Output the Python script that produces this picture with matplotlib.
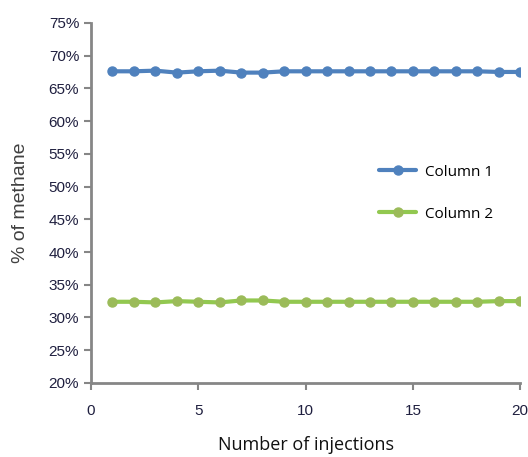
import matplotlib.pyplot as plt
from matplotlib.ticker import FuncFormatter

# 數據
injections = list(range(1, 21))
column1 = [67.6, 67.6, 67.7, 67.4, 67.6, 67.7, 67.4, 67.4, 67.6, 67.6,
           67.6, 67.6, 67.6, 67.6, 67.6, 67.6, 67.6, 67.6, 67.5, 67.5]
column2 = [32.4, 32.4, 32.3, 32.5, 32.4, 32.3, 32.6, 32.6, 32.4, 32.4,
           32.4, 32.4, 32.4, 32.4, 32.4, 32.4, 32.4, 32.4, 32.5, 32.5]
y_ticks = [20, 25, 30, 35, 40, 45, 50, 55, 60, 65, 70, 75]
x_ticks = [0, 5, 10, 15, 20]

fig = plt.figure(figsize=(5.28, 4.57), dpi=100)
ax = fig.add_axes([0.1723, 0.162, 0.813, 0.788])

tick_font = ['Liberation Sans', 'DejaVu Sans']

ax.plot(injections, column1, color='#4F81BD', linewidth=3, marker='o',
        markersize=6.5, markerfacecolor='#4F81BD', markeredgecolor='#4F81BD',
        label='Column 1', solid_capstyle='round')
ax.plot(injections, column2, color='#92C850', linewidth=3, marker='o',
        markersize=6.5, markerfacecolor='#9BBB59', markeredgecolor='#9BBB59',
        label='Column 2', solid_capstyle='round')

ax.set_xlim(0, 20)
ax.set_ylim(20, 75)
ax.set_xticks(x_ticks)
ax.set_yticks(y_ticks)
ax.yaxis.set_major_formatter(FuncFormatter(lambda v, p: '%d%%' % v))

for s in ['top', 'right']:
    ax.spines[s].set_visible(False)
for s in ['left', 'bottom']:
    ax.spines[s].set_color('#868686')
    ax.spines[s].set_linewidth(2)
ax.tick_params(axis='both', colors='#868686', length=5, width=1.5,
               labelcolor='#1F1F3F', labelsize=11)
ax.tick_params(axis='x', pad=10)
for lab in ax.get_xticklabels() + ax.get_yticklabels():
    lab.set_family(tick_font)

ax.set_xlabel('Number of injections', fontsize=13, family=['Open Sans', 'DejaVu Sans'],
              color='#111111', labelpad=13)
ax.set_ylabel('% of methane', fontsize=14, family=tick_font, color='#404040',
              labelpad=14)

leg = ax.legend(loc='center left', bbox_to_anchor=(0.64, 0.527), frameon=False,
                handlelength=2.4, labelspacing=1.75, handletextpad=0.6,
                prop={'family': ['Open Sans', 'DejaVu Sans'], 'size': 11})

plt.savefig('out.png', dpi=100)
